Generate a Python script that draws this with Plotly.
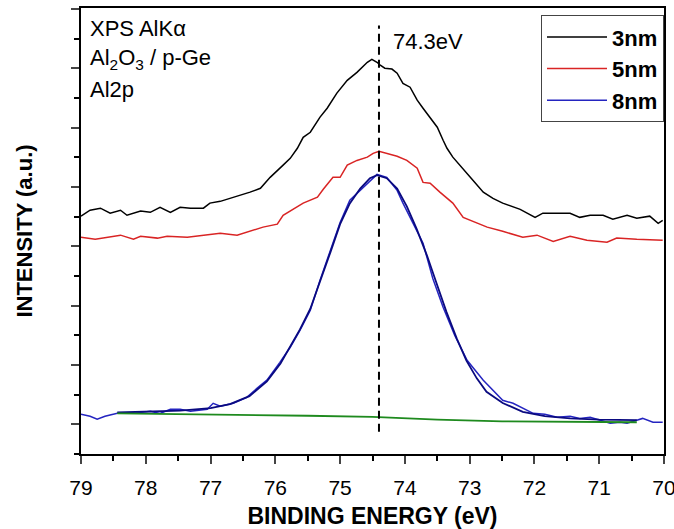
import plotly.graph_objects as go

# 3nm film (black)
ev_3nm = [79.00, 78.86, 78.70, 78.55, 78.39, 78.29, 78.08, 77.93, 77.78, 77.62, 77.47, 77.31,
          77.11, 77.01, 76.85, 76.70, 76.54, 76.39, 76.23, 76.08, 75.88, 75.77, 75.66, 75.57,
          75.46, 75.31, 75.20, 75.05, 74.89, 74.74, 74.58, 74.51, 74.43, 74.38, 74.31, 74.20,
          74.12, 74.03, 73.92, 73.81, 73.72, 73.61, 73.50, 73.41, 73.35, 73.26, 73.12, 72.99,
          72.79, 72.64, 72.49, 72.22, 71.99, 71.87, 71.68, 71.45, 71.30, 71.14, 70.94, 70.79,
          70.57, 70.42, 70.22, 70.09, 70.02]
int_3nm = [8.02, 8.22, 8.29, 8.12, 8.22, 8.05, 8.19, 8.15, 8.32, 8.15, 8.32, 8.29,
           8.29, 8.46, 8.52, 8.62, 8.72, 8.83, 8.96, 9.33, 9.74, 9.97, 10.31, 10.68,
           10.85, 11.36, 11.66, 12.17, 12.60, 12.87, 13.21, 13.31, 13.21, 13.11, 13.01, 12.98,
           12.84, 12.50, 12.37, 11.93, 11.66, 11.36, 11.02, 10.58, 10.31, 10.01, 9.67, 9.33,
           8.83, 8.62, 8.46, 8.25, 7.98, 8.12, 8.12, 8.12, 7.98, 8.05, 8.05, 7.92,
           8.05, 7.95, 8.02, 7.78, 7.88]

# 5nm film (red)
ev_5nm = [79.00, 78.78, 78.39, 78.19, 78.08, 77.82, 77.67, 77.36, 76.85, 76.59, 76.19,
          75.97, 75.88, 75.57, 75.35, 75.26, 75.11, 75.00, 74.89, 74.74, 74.58, 74.49,
          74.40, 74.27, 74.12, 73.97, 73.81, 73.72, 73.61, 73.46, 73.26, 73.10, 72.89,
          72.73, 72.49, 72.18, 71.96, 71.71, 71.45, 71.19, 70.88, 70.73, 70.42, 70.02]
int_5nm = [7.31, 7.24, 7.38, 7.24, 7.34, 7.28, 7.34, 7.31, 7.44, 7.38, 7.65,
           7.75, 8.05, 8.46, 8.66, 8.93, 9.33, 9.33, 9.74, 9.90, 10.01, 10.14,
           10.21, 10.14, 10.04, 9.90, 9.64, 9.16, 9.13, 8.83, 8.46, 7.98, 7.78,
           7.65, 7.51, 7.31, 7.38, 7.17, 7.34, 7.21, 7.14, 7.28, 7.24, 7.21]

# 8nm film (blue), measured spectrum
ev_8nm = [79.00, 78.86, 78.75, 78.63, 78.44, 78.19, 77.93, 77.78, 77.62, 77.47, 77.31,
          77.16, 77.05, 76.96, 76.85, 76.65, 76.44, 76.28, 76.13, 75.93, 75.77, 75.62,
          75.46, 75.31, 75.15, 75.00, 74.85, 74.69, 74.54, 74.43, 74.28, 74.12, 74.03,
          73.92, 73.84, 73.72, 73.57, 73.41, 73.23, 73.04, 72.79, 72.49, 72.33, 72.18,
          72.02, 71.84, 71.65, 71.45, 71.30, 71.14, 70.99, 70.83, 70.68, 70.57, 70.42,
          70.33, 70.17, 70.02]
int_8nm = [1.34, 1.27, 1.17, 1.27, 1.37, 1.37, 1.44, 1.37, 1.51, 1.51, 1.44,
           1.47, 1.51, 1.71, 1.61, 1.71, 1.91, 2.22, 2.49, 3.09, 3.60, 4.17,
           4.85, 5.86, 6.87, 7.81, 8.56, 8.89, 9.23, 9.43, 9.33, 8.89, 8.46,
           7.98, 7.65, 7.11, 5.93, 4.95, 4.00, 3.16, 2.49, 1.81, 1.71, 1.54,
           1.37, 1.34, 1.24, 1.27, 1.20, 1.24, 1.14, 1.04, 1.07, 1.04, 1.14,
           1.20, 1.07, 1.07]

# 8nm peak fit envelope
ev_fit = [78.44, 77.93, 77.47, 77.00, 76.70, 76.40, 76.13, 75.92, 75.77, 75.62, 75.46,
          75.31, 75.15, 75.00, 74.85, 74.69, 74.54, 74.43, 74.28, 74.12, 73.97, 73.82,
          73.66, 73.51, 73.36, 73.20, 73.05, 72.89, 72.74, 72.49, 72.18, 71.84, 71.45,
          71.00, 70.42]
int_fit = [1.40, 1.42, 1.46, 1.55, 1.68, 1.95, 2.45, 3.05, 3.60, 4.20, 4.90,
           5.80, 6.80, 7.75, 8.45, 8.95, 9.30, 9.40, 9.30, 8.95, 8.35, 7.60,
           6.70, 5.75, 4.80, 3.90, 3.15, 2.55, 2.10, 1.72, 1.42, 1.28, 1.20,
           1.16, 1.14]

# background (green)
ev_bg = [78.44, 77.50, 76.50, 75.50, 74.50, 73.50, 72.50, 71.50, 70.42]
int_bg = [1.37, 1.35, 1.31, 1.29, 1.25, 1.16, 1.10, 1.08, 1.07]

peak_ev = 74.4
peak_line = [0.75, 14.45]

x_ticks = [79, 78, 77, 76, 75, 74, 73, 72, 71, 70]
y_ticks = [1, 3, 5, 7, 9, 11, 13, 15]

FONT = "Arial, Liberation Sans, sans-serif"

fig = go.Figure()
fig.add_trace(go.Scatter(x=ev_8nm, y=int_8nm, mode="lines", name="8nm",
                         line=dict(color="#2424c0", width=1.5), showlegend=False))
fig.add_trace(go.Scatter(x=ev_fit, y=int_fit, mode="lines", name="fit",
                         line=dict(color="#0a0a80", width=1.8), showlegend=False))
fig.add_trace(go.Scatter(x=ev_bg, y=int_bg, mode="lines", name="background",
                         line=dict(color="#1e8a1e", width=1.8), showlegend=False))
fig.add_trace(go.Scatter(x=ev_3nm, y=int_3nm, mode="lines", name="<b>3nm</b>",
                         line=dict(color="black", width=1.5)))
fig.add_trace(go.Scatter(x=ev_5nm, y=int_5nm, mode="lines", name="<b>5nm</b>",
                         line=dict(color="#d92424", width=1.5)))
# legend-only entry so that 8nm sits last in the legend
fig.add_trace(go.Scatter(x=[None], y=[None], mode="lines", name="<b>8nm</b>",
                         line=dict(color="#2424c0", width=1.5)))
fig.add_trace(go.Scatter(x=[peak_ev, peak_ev], y=peak_line, mode="lines",
                         line=dict(color="black", width=2, dash="8px,5px"),
                         showlegend=False))

fig.add_annotation(text="XPS AlKα", xref="paper", yref="paper", x=0.012, y=0.953,
                   xanchor="left", yanchor="middle", showarrow=False,
                   font=dict(size=22, color="black"))
fig.add_annotation(text="Al<sub>2</sub>O<sub>3</sub> / p-Ge", xref="paper", yref="paper",
                   x=0.012, y=0.885, xanchor="left", yanchor="middle", showarrow=False,
                   font=dict(size=22, color="black"))
fig.add_annotation(text="Al2p", xref="paper", yref="paper", x=0.012, y=0.818,
                   xanchor="left", yanchor="middle", showarrow=False,
                   font=dict(size=22, color="black"))
fig.add_annotation(text="74.3eV", xref="paper", yref="paper", x=0.532, y=0.925,
                   xanchor="left", yanchor="middle", showarrow=False,
                   font=dict(size=22, color="black"))

fig.update_layout(
    width=674, height=529,
    margin=dict(l=81, r=10, t=8, b=75),
    paper_bgcolor="white", plot_bgcolor="white",
    font=dict(family=FONT, color="black"),
    legend=dict(x=1, y=0.984, xanchor="right", yanchor="top",
                bgcolor="white", bordercolor="#444", borderwidth=1,
                font=dict(size=22),
                itemwidth=60, tracegroupgap=0),
    xaxis=dict(
        range=[79, 70], tickvals=x_ticks, ticks="outside", ticklen=8, tickwidth=2,
        showline=True, linewidth=2, linecolor="black", mirror=True,
        showgrid=False, zeroline=False, tickfont=dict(size=21),
        ticklabeloverflow="allow", ticklabelstandoff=6, automargin=False,
        minor=dict(dtick=0.5, ticks="outside", ticklen=5, tickwidth=2, tickcolor="black"),
        title=dict(text="<b>BINDING ENERGY (eV)</b>", font=dict(size=23), standoff=16),
    ),
    yaxis=dict(
        range=[0, 15.04], tickvals=y_ticks, ticks="outside", ticklen=8, tickwidth=2,
        showticklabels=False, automargin=False,
        showline=True, linewidth=2, linecolor="black", mirror=True,
        showgrid=False, zeroline=False,
        minor=dict(dtick=1, tick0=0, ticks="outside", ticklen=5, tickwidth=2, tickcolor="black"),
        title=dict(text="<b>INTENSITY (a.u.)</b>", font=dict(size=22), standoff=32),
    ),
)

fig.write_html("out.html", config={"displayModeBar": False},
               post_script="document.body.style.margin='0';")
